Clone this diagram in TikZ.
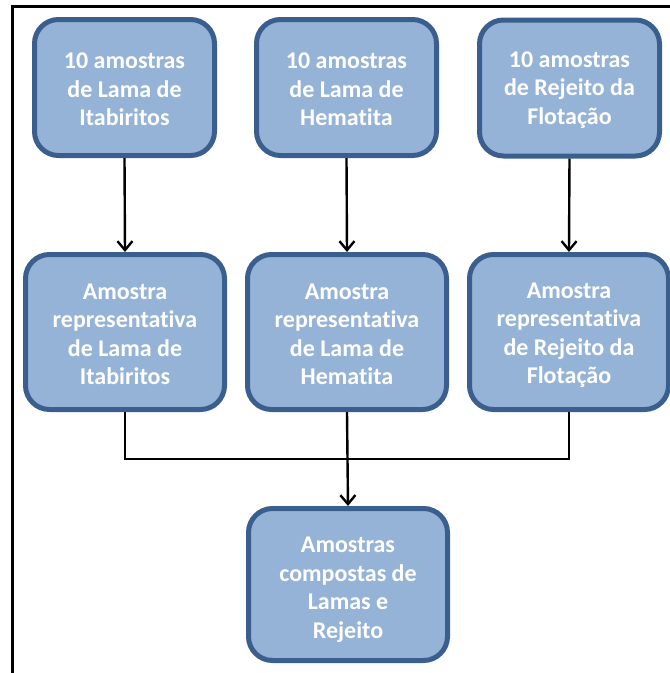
\documentclass[tikz,border=0pt]{standalone}
\usepackage{fontspec}
\setmainfont{Carlito}[Ligatures=NoCommon]
\usetikzlibrary{arrows.meta}
\newcommand{\toppad}[1]{\rule{0pt}{#1}}
\begin{document}
\begin{tikzpicture}[x=1pt,y=-1pt,
  box/.style={draw=boxline, fill=boxfill, line width=5pt, rounded corners=24pt,
    align=center, text=white, font=\fontsize{24}{28.5}\selectfont\bfseries, inner sep=0pt},
  topbox/.style={box, minimum width=180pt, minimum height=136pt},
  midbox/.style={box, minimum width=199pt, minimum height=155pt},
  conn/.style={line width=2.4pt, draw=black},
  arr/.style={conn, -{Straight Barb[length=9pt,width=15pt,line width=2.4pt]}}]
\definecolor{boxline}{HTML}{3A5F8E}
\definecolor{boxfill}{HTML}{95B3D7}
\useasboundingbox (0,0) rectangle (670,673);
\draw[line width=2.2pt] (12.5,6.5) rectangle (720,720);
\node[topbox] (a1) at (124.5,87.5) {\toppad{20pt}10 amostras\\de Lama de\\Itabiritos};
\node[topbox] (a2) at (346.5,87.5) {\toppad{20pt}10 amostras\\de Lama de\\Hematita};
\node[topbox] (a3) at (569.5,88) {\toppad{20pt}10 amostras\\de Rejeito da\\Flotação};
\node[midbox] (b1) at (125,332) {\toppad{20pt}Amostra\\representativa\\de Lama de\\Itabiritos};
\node[midbox] (b2) at (347,332) {\toppad{20pt}Amostra\\representativa\\de Lama de\\Hematita};
\node[midbox] (b3) at (569,332) {\toppad{22pt}Amostra\\representativa\\de Rejeito da\\Flotação};
\node[box, minimum width=199pt, minimum height=152pt] (c) at (348,584.5) {\toppad{26pt}Amostras\\compostas de\\Lamas e\\Rejeito};
\draw[arr] (a1.south) -- (b1.north);
\draw[arr] (a2.south) -- (b2.north);
\draw[arr] (a3.south) -- (b3.north);
\coordinate (j) at (125,459);
\draw[conn] (b1.south) -- (j) -| (b3.south);
\draw[arr] (b2.south) -- (c.north);
\end{tikzpicture}
\end{document}
